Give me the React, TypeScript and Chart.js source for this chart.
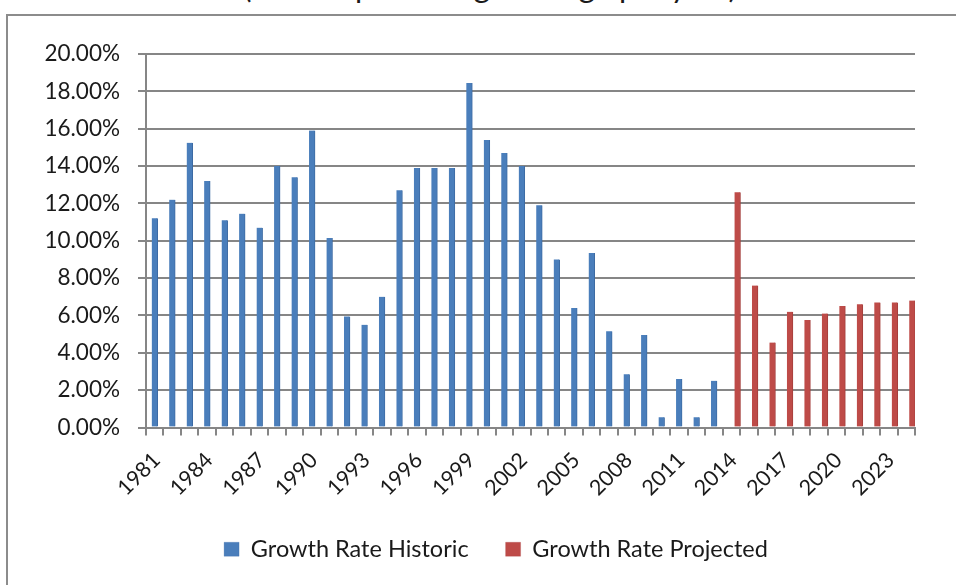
import React, { useEffect, useRef } from "react";
import { Chart, registerables } from "chart.js";

Chart.register(...registerables);

const titleText = "(Annual percentage change per year)";

const years = [
  "1981", "1982", "1983", "1984", "1985", "1986", "1987", "1988", "1989", "1990",
  "1991", "1992", "1993", "1994", "1995", "1996", "1997", "1998", "1999", "2000",
  "2001", "2002", "2003", "2004", "2005", "2006", "2007", "2008", "2009", "2010",
  "2011", "2012", "2013", "2014", "2015", "2016", "2017", "2018", "2019", "2020",
  "2021", "2022", "2023", "2024",
];

// Growth Rate Historic (1981-2013), percent
const historic: (number | null)[] = [
  11.2, 12.2, 15.25, 13.2, 11.1, 11.45, 10.7, 14.0, 13.4, 15.9,
  10.15, 5.95, 5.5, 7.0, 12.7, 13.9, 13.9, 13.9, 18.45, 15.4,
  14.7, 14.0, 11.9, 9.0, 6.4, 9.35, 5.15, 2.85, 4.95, 0.55,
  2.6, 0.55, 2.5, null, null, null, null, null, null, null,
  null, null, null, null,
];

// Growth Rate Projected (2014-2024), percent
const projected: (number | null)[] = [
  null, null, null, null, null, null, null, null, null, null,
  null, null, null, null, null, null, null, null, null, null,
  null, null, null, null, null, null, null, null, null, null,
  null, null, null, 12.6, 7.6, 4.55, 6.2, 5.75, 6.1, 6.5,
  6.6, 6.7, 6.7, 6.8,
];

// empty slot that sits left of the historic bar in each category
const spacer: (number | null)[] = years.map(() => null);

const yTicks = [0, 2, 4, 6, 8, 10, 12, 14, 16, 18, 20];

const FONT = "Lato";
const GRID = "#868686";

export default function App() {
  const ref = useRef<HTMLCanvasElement | null>(null);

  useEffect(() => {
    if (!ref.current) return;
    const chart = new Chart(ref.current, {
      type: "bar",
      data: {
        labels: years,
        datasets: [
          {
            label: "",
            data: spacer,
            backgroundColor: "rgba(0,0,0,0)",
            barThickness: 6,
          },
          {
            label: "Growth Rate Historic",
            data: historic,
            backgroundColor: "#4a7ebb",
            borderColor: "#3d6ba3",
            borderWidth: { right: 1 },
            borderSkipped: false,
            barThickness: 6,
          },
          {
            label: "Growth Rate Projected",
            data: projected,
            backgroundColor: "#be4b48",
            borderColor: "#a43e3b",
            borderWidth: { right: 1 },
            borderSkipped: false,
            barThickness: 6,
          },
        ],
      },
      options: {
        responsive: false,
        animation: false,
        devicePixelRatio: 1,
        layout: { padding: { top: 38, left: 0, right: 0, bottom: 45 } },
        plugins: {
          title: { display: false },
          tooltip: { enabled: false },
          legend: {
            position: "bottom",
            labels: {
              filter: (item) => item.datasetIndex !== 0,
              boxWidth: 15,
              boxHeight: 14,
              padding: 37,
              color: "#1a1a1a",
              font: { family: FONT, size: 23.5 },
            },
          },
        },
        scales: {
          x: {
            offset: true,
            grid: {
              display: true,
              drawOnChartArea: false,
              drawTicks: true,
              tickLength: 8,
              color: GRID,
              lineWidth: 2,
              offset: true,
            },
            border: { display: true, color: GRID, width: 2 },
            ticks: {
              autoSkip: false,
              maxRotation: 45,
              minRotation: 45,
              padding: 12,
              labelOffset: 2,
              color: "#1a1a1a",
              font: { family: FONT, size: 21.5 },
              callback: (_v, i) => (i % 3 === 0 ? years[i] : ""),
            },
            afterFit: (s: any) => {
              s.height = 73;
            },
          },
          y: {
            min: 0,
            max: 20,
            afterBuildTicks: (s: any) => {
              s.ticks = yTicks.map((v) => ({ value: v }));
            },
            grid: { color: GRID, lineWidth: 2, tickLength: 8 },
            border: { display: true, color: GRID, width: 2 },
            ticks: {
              padding: 18,
              color: "#1a1a1a",
              font: { family: FONT, size: 22.5 },
              callback: (v: any) => Number(v).toFixed(2) + "%",
            },
            afterFit: (s: any) => {
              s.width = 138;
            },
          },
          yR: {
            type: "linear",
            position: "right",
            display: true,
            grid: { display: false },
            border: { display: false },
            ticks: { display: false },
            afterFit: (s: any) => {
              s.width = 69;
            },
          },
        },
      },
    });
    return () => chart.destroy();
  }, []);

  return (
    <div
      style={{
        position: "fixed",
        left: 0,
        top: 0,
        width: 956,
        height: 585,
        overflow: "hidden",
        background: "#fff",
        fontFamily: FONT,
      }}
    >
      <div
        style={{
          position: "absolute",
          left: 0,
          top: -29,
          width: 980,
          textAlign: "center",
          fontSize: 31,
          lineHeight: "31px",
          color: "#1a1a1a",
          whiteSpace: "nowrap",
        }}
      >
        {titleText}
      </div>
      <div
        style={{
          position: "absolute",
          left: 6,
          top: 14,
          width: 976,
          height: 620,
          border: "2px solid #8c8c8c",
        }}
      >
        <canvas ref={ref} width={976} height={600} style={{ display: "block" }} />
      </div>
    </div>
  );
}
